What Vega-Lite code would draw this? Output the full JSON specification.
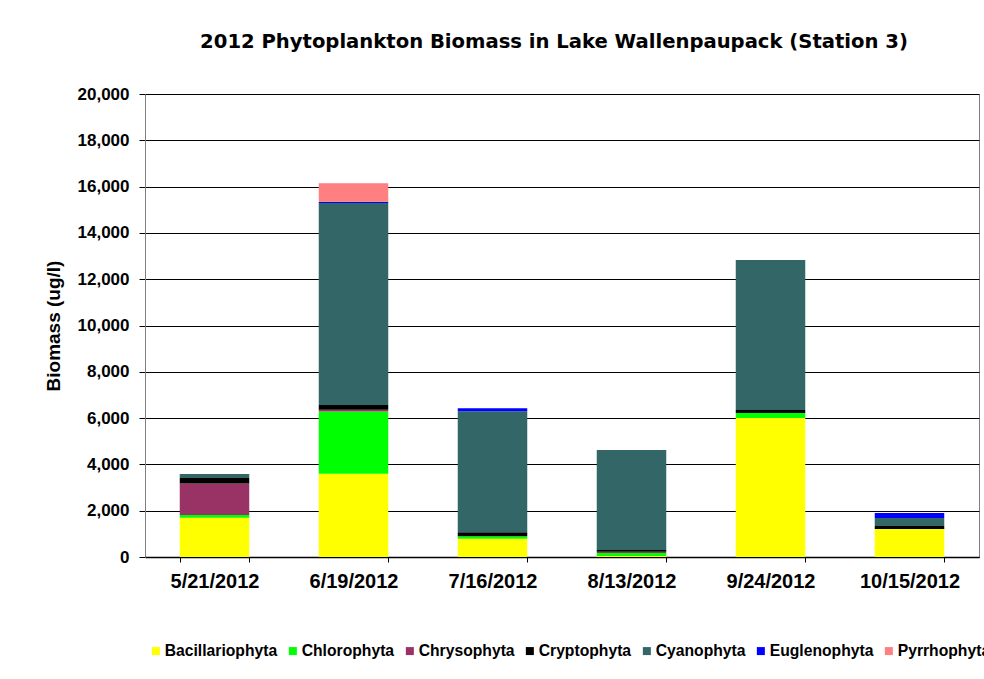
{
  "$schema": "https://vega.github.io/schema/vega-lite/v6.json",
  "width": 834,
  "height": 463,
  "autosize": {"type": "none"},
  "padding": {"left": 145, "top": 94, "right": 5, "bottom": 122},
  "background": "white",
  "title": {
    "text": "2012 Phytoplankton Biomass in Lake Wallenpaupack (Station 3)",
    "font": "DejaVu Sans",
    "fontSize": 19.6,
    "fontWeight": "bold",
    "color": "black",
    "anchor": "middle",
    "dx": -8,
    "offset": 32
  },
  "config": {
    "view": {"stroke": "#808080", "strokeWidth": 1},
    "axis": {"labelFont": "Liberation Sans", "titleFont": "Liberation Sans", "labelColor": "black", "titleColor": "black"},
    "legend": {"labelFont": "Liberation Sans"}
  },
  "data": {
    "values": [
      {"date": "5/21/2012", "division": "Bacillariophyta", "biomass": 1700},
      {"date": "5/21/2012", "division": "Chlorophyta", "biomass": 110},
      {"date": "5/21/2012", "division": "Chrysophyta", "biomass": 1360},
      {"date": "5/21/2012", "division": "Cryptophyta", "biomass": 240},
      {"date": "5/21/2012", "division": "Cyanophyta", "biomass": 180},
      {"date": "6/19/2012", "division": "Bacillariophyta", "biomass": 3600},
      {"date": "6/19/2012", "division": "Chlorophyta", "biomass": 2680},
      {"date": "6/19/2012", "division": "Chrysophyta", "biomass": 80},
      {"date": "6/19/2012", "division": "Cryptophyta", "biomass": 210},
      {"date": "6/19/2012", "division": "Cyanophyta", "biomass": 8720},
      {"date": "6/19/2012", "division": "Euglenophyta", "biomass": 60},
      {"date": "6/19/2012", "division": "Pyrrhophyta", "biomass": 790},
      {"date": "7/16/2012", "division": "Bacillariophyta", "biomass": 790},
      {"date": "7/16/2012", "division": "Chlorophyta", "biomass": 110},
      {"date": "7/16/2012", "division": "Cryptophyta", "biomass": 170},
      {"date": "7/16/2012", "division": "Cyanophyta", "biomass": 5230},
      {"date": "7/16/2012", "division": "Euglenophyta", "biomass": 130},
      {"date": "8/13/2012", "division": "Bacillariophyta", "biomass": 40},
      {"date": "8/13/2012", "division": "Chlorophyta", "biomass": 130},
      {"date": "8/13/2012", "division": "Chrysophyta", "biomass": 60},
      {"date": "8/13/2012", "division": "Cryptophyta", "biomass": 70},
      {"date": "8/13/2012", "division": "Cyanophyta", "biomass": 4320},
      {"date": "9/24/2012", "division": "Bacillariophyta", "biomass": 6000},
      {"date": "9/24/2012", "division": "Chlorophyta", "biomass": 220},
      {"date": "9/24/2012", "division": "Cryptophyta", "biomass": 130},
      {"date": "9/24/2012", "division": "Cyanophyta", "biomass": 6480},
      {"date": "10/15/2012", "division": "Bacillariophyta", "biomass": 1210},
      {"date": "10/15/2012", "division": "Cryptophyta", "biomass": 130},
      {"date": "10/15/2012", "division": "Cyanophyta", "biomass": 340},
      {"date": "10/15/2012", "division": "Euglenophyta", "biomass": 220}
    ]
  },
  "mark": {"type": "bar"},
  "encoding": {
    "x": {
      "field": "date",
      "type": "nominal",
      "sort": null,
      "scale": {"paddingInner": 0.5, "paddingOuter": 0.25},
      "axis": {
        "title": null,
        "labelAngle": 0,
        "labelFontSize": 20,
        "labelFontWeight": "bold",
        "labelPadding": 9,
        "tickBand": "extent",
        "tickSize": 5,
        "tickColor": "black",
        "domainColor": "black",
        "domainWidth": 1.5
      }
    },
    "y": {
      "field": "biomass",
      "type": "quantitative",
      "stack": "zero",
      "scale": {"domain": [0, 20000], "nice": false},
      "axis": {
        "title": "Biomass (ug/l)",
        "titleFontSize": 19,
        "titleFontWeight": "bold",
        "titlePadding": 14,
        "values": [0, 2000, 4000, 6000, 8000, 10000, 12000, 14000, 16000, 18000, 20000],
        "format": ",d",
        "labelFontSize": 17,
        "labelFontWeight": "bold",
        "labelPadding": 10,
        "tickSize": 6,
        "tickColor": "black",
        "domainColor": "#808080",
        "grid": true,
        "gridColor": "black",
        "gridWidth": 1
      }
    },
    "order": {"field": "division", "sort": "ascending"},
    "color": {
      "field": "division",
      "type": "nominal",
      "scale": {
        "domain": ["Bacillariophyta", "Chlorophyta", "Chrysophyta", "Cryptophyta", "Cyanophyta", "Euglenophyta", "Pyrrhophyta"],
        "range": ["#FFFF00", "#00FF00", "#993366", "#000000", "#336666", "#0000FF", "#FF8080"]
      },
      "legend": {
        "title": null,
        "orient": "none",
        "direction": "horizontal",
        "legendX": 3,
        "legendY": 549,
        "symbolType": "square",
        "symbolSize": 64,
        "symbolStrokeWidth": 0,
        "labelFontSize": 15.7,
        "labelFontWeight": "bold",
        "labelColor": "black",
        "labelOffset": 1,
        "columnPadding": 7
      }
    }
  }
}
